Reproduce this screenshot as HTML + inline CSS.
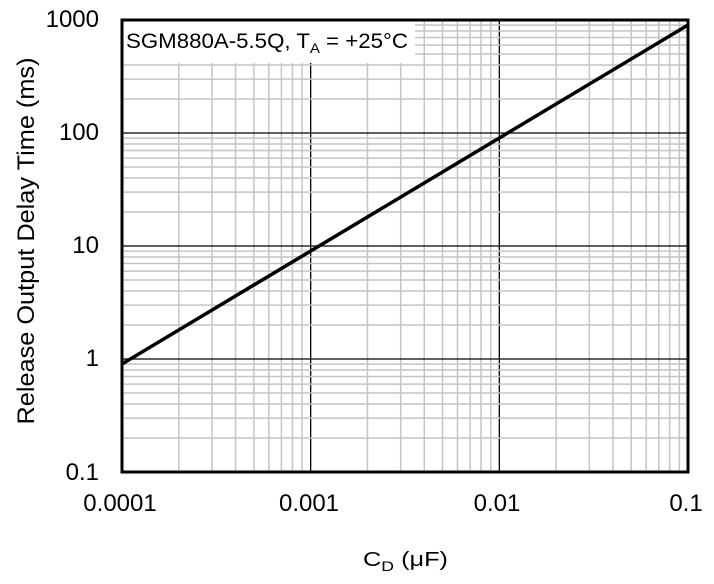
<!DOCTYPE html>
<html><head><style>
html,body{margin:0;padding:0;background:#fff;}
svg{display:block;}
text{font-family:"Liberation Sans",Arial,sans-serif;fill:#000;}
</style></head><body>
<svg id="s" width="714" height="584" xmlns="http://www.w3.org/2000/svg">
<g id="grid"></g>
<rect x="123" y="21" width="292" height="42" fill="#fff"/>
<text x="126" y="48" font-size="21" textLength="282" lengthAdjust="spacingAndGlyphs">SGM880A-5.5Q,  T<tspan font-size="14" dy="5">A</tspan><tspan dy="-5"> = +25°C</tspan></text>
<line x1="122" y1="364" x2="688" y2="25" stroke="#000" stroke-width="3.5"/>
<rect x="122" y="20" width="566" height="452" fill="none" stroke="#000" stroke-width="3"/>
<g font-size="24" text-anchor="end">
<text x="99" y="27">1000</text>
<text x="99" y="140">100</text>
<text x="99" y="253">10</text>
<text x="99" y="366">1</text>
<text x="99" y="480">0.1</text>
</g>
<g font-size="24" text-anchor="middle">
<text x="120" y="511">0.0001</text>
<text x="309" y="511">0.001</text>
<text x="497" y="511">0.01</text>
<text x="686" y="511">0.1</text>
</g>
<text x="363" y="566" font-size="20" textLength="85" lengthAdjust="spacingAndGlyphs">C<tspan font-size="14" dy="5">D</tspan><tspan dy="-5">  (μF)</tspan></text>
<text font-size="24" text-anchor="middle" textLength="367" lengthAdjust="spacingAndGlyphs" transform="translate(34,241) rotate(-90)">Release  Output  Delay  Time  (ms)</text>
</svg>
<script>
var g=document.getElementById('grid'),ns='http://www.w3.org/2000/svg';
function L(x1,y1,x2,y2,c,w){var l=document.createElementNS(ns,'line');l.setAttribute('x1',x1);l.setAttribute('y1',y1);l.setAttribute('x2',x2);l.setAttribute('y2',y2);l.setAttribute('stroke',c);l.setAttribute('stroke-width',w);g.appendChild(l);}
var X0=122,DX=566/3,Y0=472,DY=113;
for(var d=0;d<3;d++)for(var k=1;k<10;k++){var x=X0+DX*(d+Math.log10(k));if(k==1&&d>0)L(x,20,x,472,'#000',1.3);else if(k>1)L(x,20,x,472,'#c4c4c4',1.5);}
for(var d=0;d<4;d++)for(var k=1;k<10;k++){var y=Y0-DY*(d+Math.log10(k));if(k==1&&d>0)L(122,y,688,y,'#000',1.3);else if(k>1)L(122,y,688,y,'#c4c4c4',1.5);}
</script>
</body></html>
